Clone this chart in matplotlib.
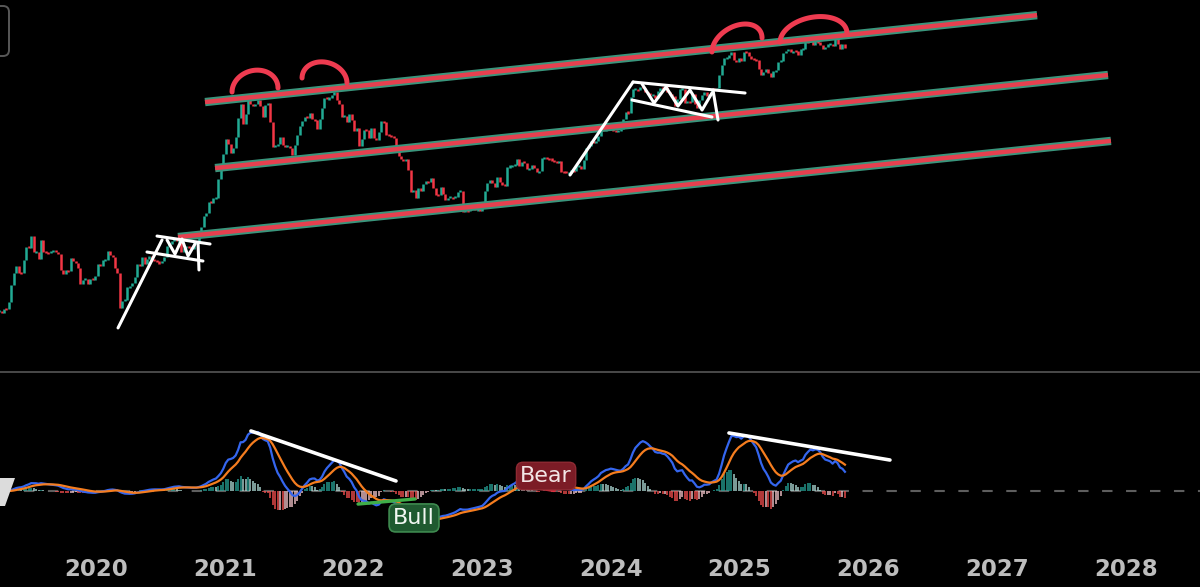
import numpy as np
import pandas as pd
import matplotlib
matplotlib.use("Agg")
import matplotlib.pyplot as plt
from matplotlib.lines import Line2D
from matplotlib.patches import FancyBboxPatch, Polygon
from matplotlib.transforms import Affine2D, blended_transform_factory

# ---------------------------------------------------------------- data
first_week = "2019-04-01"

# weekly closes, BTC/USD
weekly_close = [
    # 2019 (from April)
    5180, 5070, 5300, 5270, 5750, 6980, 8000, 8750, 8050, 8000, 9300, 10900,
    10800, 12300, 10200, 10300, 9500, 11800, 10300, 10200, 10150, 10400, 10400,
    10300, 10000, 8300, 7900, 8300, 8230, 9550, 9200, 9000, 8500, 7050, 7400,
    7500, 7100, 7500, 7400,
    # 2020
    7750, 8900, 8700, 9350, 9350, 10350, 9950, 9660, 8550, 8000, 5350, 5830,
    5900, 6800, 6900, 7150, 7700, 8900, 8700, 9700, 8900, 9450, 9750, 9450,
    9300, 9100, 9050, 9250, 9700, 11000, 11200, 11700, 11900, 11650, 11700,
    10250, 10700, 10950, 10750, 10650, 11400, 11500, 13000, 13750, 15500,
    16050, 18400, 18200, 19150, 19250, 23850, 26450,
    # 2021
    32000, 38150, 36000, 32300, 34300, 39250, 48600, 57500, 45200, 51200,
    61200, 57350, 55800, 57100, 60000, 56200, 49100, 56600, 58200, 46400,
    34700, 35700, 35800, 39100, 35600, 34700, 35300, 34250, 31800, 35400,
    39900, 44600, 47100, 49300, 48900, 51800, 48300, 47300, 42700, 48200,
    54900, 61500, 60900, 61300, 63300, 65500, 59700, 57200, 49400, 50100,
    46700, 50800,
    # 2022
    47300, 41800, 43100, 35100, 38200, 42400, 42200, 38400, 43200, 38400,
    37800, 41300, 46800, 46400, 40000, 39700, 39400, 38500, 34300, 31300,
    30300, 29500, 30200, 26600, 20600, 21000, 19300, 21600, 20800, 22600,
    23300, 23200, 24300, 21500, 20000, 19800, 21800, 20100, 18800, 19300,
    19400, 19200, 19500, 20600, 20900, 16300, 16600, 16500, 17100, 17100,
    16700, 16800,
    # 2023
    16600, 17100, 20900, 22800, 23800, 22900, 21800, 24600, 23200, 22400,
    22100, 27600, 27800, 28000, 28300, 30300, 27800, 29300, 28900, 26800,
    26800, 28100, 27100, 25900, 26300, 30500, 30600, 30300, 30200, 29900,
    29300, 29100, 29400, 26100, 26000, 25800, 25800, 26500, 26300, 27900,
    27900, 26900, 29900, 34500, 35000, 37100, 36600, 37400, 39500, 43800,
    41900, 43000, 42300,
    # 2024
    43900, 41700, 41600, 42000, 43000, 48300, 52100, 51700, 62000, 68400,
    68400, 67200, 69600, 69400, 65700, 64900, 63400, 63900, 61500, 66900,
    69400, 67800, 69600, 66200, 64200, 62700, 55900, 60800, 68200, 68300,
    58200, 58700, 58400, 64200, 57300, 54900, 60000, 63600, 65600, 62800,
    63900, 68400, 68000, 68800, 80400, 90300, 97700, 97900, 101200, 104400,
    95100, 93700,
    # 2025
    98300, 94500, 105000, 104700, 100600, 96400, 96100, 96000, 86000, 80700,
    83000, 86000, 82400, 78300, 83800, 85300, 93700, 94300, 104100, 106500,
    109000, 104600, 105700, 105500, 100900, 108300, 109200, 119100, 117900,
    119400, 114200, 119300, 117400, 113500, 108300, 111100, 115300, 115300,
    112200, 123500, 115000, 108700, 114500, 110500,
]

year_ticks = [2020, 2021, 2022, 2023, 2024, 2025, 2026, 2027, 2028]

# drawn channel lines: (year, price) end points
channel_top = [(2020.847, 58600), (2027.312, 161000)]
channel_mid = [(2020.925, 27200), (2027.863, 80300)]
channel_bot = [(2020.637, 12200), (2027.886, 37300)]

# red arcs over the tops: (year0, price0, year1, price1, bump in ln-price)
top_arcs = [
    (2021.057, 65860, 2021.414, 69000, 0.23),
    (2021.601, 77510, 2021.950, 73130, 0.215),
    (2024.786, 104880, 2025.175, 123400, 0.23),
    (2025.315, 117600, 2025.835, 130500, 0.24),
]

# white sketch lines (year, price)
rally_2020 = [(2020.171, 4240), (2020.513, 11790)]
flag_2020 = [
    [(2020.474, 12340), (2020.886, 11250)],
    [(2020.396, 10250), (2020.831, 9230)],
    [(2020.793, 11340), (2020.800, 8320)],
    [(2020.552, 11790), (2020.614, 10010), (2020.668, 11920),
     (2020.715, 9790), (2020.769, 11250)],
]
rally_2024 = [(2023.683, 25090), (2024.173, 73990)]
flag_2024 = [
    [(2024.173, 73990), (2025.043, 65100)],
    [(2024.165, 60020), (2024.786, 49250)],
    [(2024.794, 67410), (2024.833, 47560)],
    [(2024.243, 72280), (2024.336, 57960), (2024.429, 69800),
     (2024.522, 55970), (2024.615, 67410), (2024.709, 53430),
     (2024.786, 65100)],
]

# oscillator pane marks: (year, pane height fraction)
macd_div_2021 = [(2021.204, 0.691), (2022.331, 0.388)]
macd_div_2025 = [(2024.918, 0.679), (2026.169, 0.515)]
macd_bull_line = [(2022.036, 0.248), (2022.479, 0.279)]
bear_label = (2023.497, 0.418)
bull_label = (2022.471, 0.164)
bear_tick = [(2023.30, 0.364), (2023.56, 0.333)]

# ---------------------------------------------------------------- colours
BG = "#000000"
UP = "#22ab94"
DOWN = "#f23645"
CH_EDGE = "#3a957c"
CH_FILL = "#e6404f"
ARC = "#ee3b50"
MACD_C = "#3566ee"
SIG_C = "#f57d1f"
TICK_C = "#bdbdbd"

W, H = 1200, 587
fig = plt.figure(figsize=(W / 100, H / 100), dpi=100, facecolor=BG)


def fig_rect(x0, y0, x1, y1):
    return [x0 / W, 1 - y1 / H, (x1 - x0) / W, (y1 - y0) / H]


ax = fig.add_axes(fig_rect(0, 0, W, 372))
axm = fig.add_axes(fig_rect(0, 380, W, 545), sharex=ax)
for a in (ax, axm):
    a.set_facecolor("none")
    for s in a.spines.values():
        s.set_visible(False)
    a.tick_params(left=False, labelleft=False)

ax.set_xlim(2019.254, 2028.578)
ax.set_yscale("log")
ax.set_ylim(2540, 192000)
ax.tick_params(bottom=False, labelbottom=False)
ax.yaxis.set_minor_locator(matplotlib.ticker.NullLocator())

# ---------------------------------------------------------------- candles
close = np.asarray(weekly_close, dtype=float)
open_ = np.r_[close[0], close[:-1]]
dates = pd.date_range(first_week, periods=len(close), freq="7D")
t = np.asarray(dates.year + (dates.dayofyear - 1) /
               np.where(dates.is_leap_year, 366, 365), dtype=float)
cols = np.where(close >= open_, UP, DOWN)
# keep very small bodies at least about two pixels tall
lo_body = np.minimum(open_, close)
hi_body = np.maximum(open_, close)
mid = np.sqrt(lo_body * hi_body)
min_half = 1.012
lo_body = np.minimum(lo_body, mid / min_half)
hi_body = np.maximum(hi_body, mid * min_half)
ax.vlines(t, lo_body, hi_body, colors=cols, lw=1.8, zorder=2)

# ---------------------------------------------------------------- channel
for (x0, p0), (x1, p1) in (channel_top, channel_mid, channel_bot):
    ax.plot([x0, x1], [p0, p1], color=CH_EDGE, lw=6.0,
            solid_capstyle="butt", zorder=4)
    ax.plot([x0, x1], [p0, p1], color=CH_FILL, lw=3.2,
            solid_capstyle="butt", zorder=5)

# arcs
u = np.linspace(0, np.pi, 80)
for x0, p0, x1, p1, bump in top_arcs:
    f = (1 - np.cos(u)) / 2
    xs = x0 + (x1 - x0) * f
    lp = np.log(p0) + (np.log(p1) - np.log(p0)) * f + bump * np.sin(u)
    ax.plot(xs, np.exp(lp), color=ARC, lw=3.6, solid_capstyle="round",
            zorder=6)

# white sketch lines
for seg in [rally_2020, rally_2024] + flag_2020 + flag_2024:
    xs, ps = zip(*seg)
    ax.plot(xs, ps, color="white", lw=2.2, solid_capstyle="round",
            solid_joinstyle="round", zorder=6)

# ---------------------------------------------------------------- MACD
s = pd.Series(close)
macd = (s.ewm(span=12, adjust=False).mean()
        - s.ewm(span=26, adjust=False).mean()).to_numpy()
signal = pd.Series(macd).ewm(span=9, adjust=False).mean().to_numpy()
hist = macd - signal
prev = np.r_[hist[0], hist[:-1]]
hcol = np.where(hist >= 0,
                np.where(hist > prev, "#26a69a", "#b2dfdb"),
                np.where(hist < prev, "#ff5252", "#ffcdd2"))

peak = macd[t < 2021.6].max()
span = peak / 0.358
lo = -0.327 * span
axm.set_ylim(lo, lo + span)

axm.axhline(0, color="#5e5e5e", lw=1.5, ls=(0, (5, 6.5)), zorder=0)
axm.vlines(t, 0, hist, colors=hcol, lw=1.1, alpha=0.9, zorder=1)
axm.plot(t, macd, color=MACD_C, lw=1.6, zorder=3)
axm.plot(t, signal, color=SIG_C, lw=1.6, zorder=3)

bt = blended_transform_factory(axm.transData, axm.transAxes)
for seg, c, lw in ((macd_div_2021, "white", 2.6),
                   (macd_div_2025, "white", 2.6),
                   (macd_bull_line, "#3fae49", 2.4),
                   (bear_tick, "#e0303f", 3.0)):
    xs, ys = zip(*seg)
    axm.plot(xs, ys, color=c, lw=lw, transform=bt, zorder=5,
             solid_capstyle="round")

axm.text(*bear_label, "Bear", transform=bt, ha="center", va="center",
         fontsize=16, color="#f3e6e6", zorder=7,
         bbox=dict(boxstyle="round,pad=0.17,rounding_size=0.3",
                   fc="#7c1c26", ec="#8e2a33", lw=1))
axm.text(*bull_label, "Bull", transform=bt, ha="center", va="center",
         fontsize=16, color="#f2f7f2", zorder=7,
         bbox=dict(boxstyle="round,pad=0.18,rounding_size=0.3",
                   fc="#1f5a30", ec="#3e8a4f", lw=1.2))

axm.set_xticks(year_ticks)
axm.set_xticklabels([str(y) for y in year_ticks])
axm.tick_params(axis="x", length=0, pad=9, labelsize=16.5,
                labelcolor=TICK_C)
for lab in axm.get_xticklabels():
    lab.set_fontweight("bold")
axm.set_xlim(2019.254, 2028.578)

# ---------------------------------------------------------------- chrome
pix = Affine2D().scale(1 / W, -1 / H).translate(0, 1) + fig.transFigure
fig.add_artist(Line2D([0, W], [372, 372], transform=pix, color="#4a4a4a",
                      lw=1.4))
fig.add_artist(FancyBboxPatch((-20, 6), 29, 50,
                              boxstyle="round,pad=0,rounding_size=6",
                              transform=pix, fc="none", ec="#585858",
                              lw=1.4))
fig.add_artist(Polygon([(0, 478), (15, 478), (5, 506), (0, 506)],
                       closed=True, transform=pix, fc="#dcdcdc", ec="none"))

fig.savefig("out.png", dpi=100, facecolor=BG)
